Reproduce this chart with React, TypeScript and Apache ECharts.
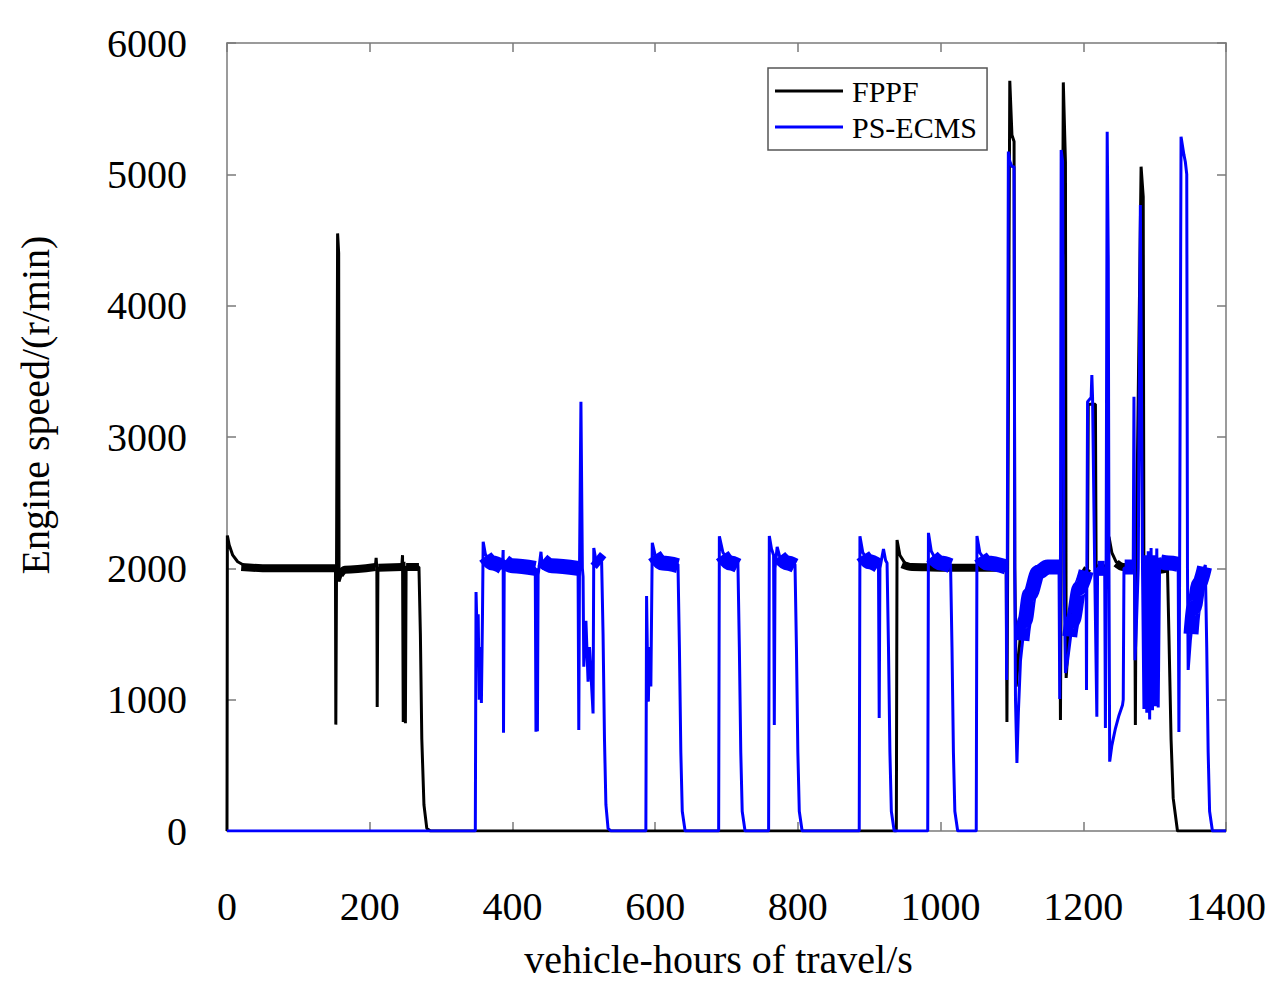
import React, { useEffect, useRef } from "react";
import * as echarts from "echarts";

const X_MIN = 0;
const X_MAX = 1400;
const X_STEP = 200;
const Y_MIN = 0;
const Y_MAX = 6000;
const Y_STEP = 1000;

const X_NAME = "vehicle-hours of travel/s";
const Y_NAME = "Engine speed/(r/min)";
const SERIES_NAMES = ["FPPF", "PS-ECMS"];

// FPPF engine speed trace [time s, speed r/min]
const fppf: [number, number][] = [
  [0, 0], [0.5, 2250], [3, 2180], [8, 2100], [15, 2050], [25, 2020], [40, 2005], [80, 2000], [152, 2000],
  [152.5, 810], [153.5, 2000], [155, 4550], [156.5, 4400], [157, 1900], [160, 1950], [170, 2000],
  [208, 2020], [209, 2080], [210, 2000], [210.5, 945], [211.5, 2000], [245, 2020], [246, 2100], [247, 830],
  [248, 2050], [250, 820], [251, 2010], [269, 2010], [271, 1500], [273, 700], [276, 200], [280, 20], [285, 0],
  [938, 0], [939, 2216], [943, 2100], [950, 2040], [965, 2010], [1000, 2000], [1092, 2000],
  [1093, 830], [1094, 2000], [1097, 5712], [1100, 5300], [1103, 5250], [1104, 2000], [1106, 1100],
  [1115, 1700], [1130, 1950], [1140, 2000], [1167, 2000], [1168, 845], [1169, 2000], [1172, 5700],
  [1175, 5090], [1176, 1165], [1180, 1500], [1190, 1850], [1206, 2000], [1207, 3250], [1217, 3250],
  [1218, 2000], [1234, 2000], [1236, 2240], [1240, 2120], [1246, 2050], [1256, 2010], [1272, 2000],
  [1273, 807], [1274, 2000], [1281, 5058], [1284, 4829], [1285, 1744], [1290, 1850], [1300, 1950],
  [1308, 1990], [1318, 2000], [1320, 1500], [1323, 700], [1326, 250], [1332, 0], [1400, 0],
];

// PS-ECMS engine speed trace [time s, speed r/min]
const psEcms: [number, number][] = [
  [0, 0], [348, 0], [349, 1820], [350.5, 1500], [352, 1650], [353.5, 1000], [355, 1400], [356.5, 975],
  [358, 1630], [359, 2203], [362, 2110], [368, 2050], [378, 2010], [386, 2000], [387, 2140], [387.5, 748],
  [388.5, 2000], [432, 2000], [433, 756], [434, 2000], [435, 760], [436, 1950], [440, 2126], [442, 2000],
  [492, 2000], [493, 769], [494, 2000], [496, 3269], [498, 2000], [499, 1936], [500, 1251], [503, 1600],
  [506, 1136], [508, 1400], [510, 1200], [512, 1000], [513, 895], [514, 2155], [517, 2060], [525, 2050],
  [527, 1500], [529, 700], [531, 200], [534, 20], [538, 0],
  [587, 0], [588, 1790], [589.5, 1200], [590.5, 985], [592, 1400], [594, 1100], [596, 2195], [600, 2100],
  [610, 2040], [632, 2030], [634, 1400], [636, 600], [638, 150], [642, 0],
  [689, 0], [690, 2244], [695, 2120], [705, 2050], [716, 2040], [718, 1400], [720, 600], [722, 150], [726, 0],
  [759, 0], [760, 2246], [763, 2150], [766, 2100], [767, 807], [768, 2000], [771, 2164], [775, 2080],
  [785, 2040], [796, 2030], [798, 1400], [800, 600], [802, 150], [806, 0],
  [886, 0], [887, 2244], [891, 2120], [900, 2050], [913, 2030], [914, 860], [915, 2000], [920, 2147],
  [923, 2060], [925, 2040], [927, 1400], [929, 600], [931, 150], [935, 0],
  [982, 0], [983, 2270], [987, 2130], [995, 2050], [1014, 2030], [1016, 1400], [1018, 600], [1020, 150], [1024, 0],
  [1050, 0], [1051, 2246], [1055, 2120], [1065, 2040], [1092, 2020], [1092.5, 1150], [1093.5, 2000],
  [1095, 5173], [1097, 5100], [1100, 5060], [1103, 5058], [1104, 2000], [1105, 1000], [1107, 518],
  [1109, 900], [1112, 1300], [1118, 1600], [1125, 1800], [1137, 1970], [1150, 2010], [1166, 2010],
  [1167, 1005], [1168, 2000], [1169, 5186], [1171, 5100], [1173, 2000], [1175, 1203], [1178, 1300],
  [1185, 1600], [1195, 1850], [1204, 1980], [1204.5, 1074], [1205, 2000], [1206, 3269], [1211, 3300],
  [1212, 3472], [1213, 3300], [1216, 2000], [1219, 870], [1220, 2000], [1230, 2000], [1231, 784],
  [1232, 2000], [1233.5, 5325], [1235, 4350], [1236, 2000], [1237, 528], [1240, 650], [1245, 780],
  [1250, 880], [1255, 960], [1256, 1000], [1257, 2000], [1270, 2010], [1271, 3306], [1272, 1800],
  [1272.5, 1300], [1274, 1500], [1277, 2000], [1280, 4767], [1283, 2000], [1285, 930], [1287, 2100],
  [1289, 900], [1291, 2130], [1293, 850], [1295, 2155], [1297, 920], [1299, 2100], [1301, 950],
  [1303, 2150], [1305, 940], [1307, 2080], [1309, 2050], [1333, 2050], [1334, 754], [1335, 2000],
  [1337, 5286], [1341, 5150], [1343, 5096], [1345, 5000], [1346, 2000], [1347, 1226], [1350, 1450],
  [1355, 1700], [1362, 1880], [1371, 2026], [1373, 1400], [1375, 600], [1377, 150], [1381, 0], [1400, 0],
];

// fluctuation band centre lines (plateau ripple) for each trace
const fppfBands: [number, number][][] = [
  [[20, 2010], [60, 2000], [152, 2000]],
  [[158, 1950], [165, 1990], [208, 2010]],
  [[212, 2005], [245, 2010]],
  [[251, 2010], [269, 2010]],
  [[946, 2030], [960, 2010], [1000, 2005], [1092, 2005]],
  [[1130, 1970], [1140, 2000], [1167, 2005]],
  [[1195, 1900], [1206, 2000]],
  [[1218, 2000], [1233, 2000]],
  [[1246, 2040], [1256, 2010], [1272, 2005]],
  [[1300, 1960], [1308, 1990], [1318, 2000]],
];

const psEcmsBands: [number, number][][] = [
  [[362, 2090], [372, 2040], [386, 2010]],
  [[389, 2050], [400, 2020], [432, 2000]],
  [[442, 2060], [455, 2020], [492, 2000]],
  [[516, 2080], [525, 2040]],
  [[599, 2100], [610, 2040], [632, 2020]],
  [[694, 2100], [705, 2040], [716, 2020]],
  [[774, 2090], [785, 2040], [796, 2020]],
  [[891, 2100], [900, 2050], [913, 2020]],
  [[988, 2090], [1000, 2040], [1014, 2020]],
  [[1056, 2090], [1065, 2040], [1092, 2010]],
  [[1114, 1450], [1118, 1600], [1125, 1800], [1137, 1970], [1150, 2010], [1166, 2010]],
  [[1181, 1480], [1185, 1600], [1195, 1850], [1204, 1980]],
  [[1220, 2000], [1230, 2000]],
  [[1258, 2010], [1270, 2010]],
  [[1308, 2050], [1320, 2040], [1333, 2030]],
  [[1351, 1500], [1355, 1700], [1362, 1880], [1370, 2010]],
];

const FONT = "'Liberation Serif', 'Times New Roman', serif";
const AXIS_COLOR = "#7a7a7a";

export default function App() {
  const ref = useRef<HTMLDivElement>(null);
  useEffect(() => {
    const chart = echarts.init(ref.current!, null, { renderer: "svg" });
    const axisCommon = {
      axisLine: { show: true, onZero: false, lineStyle: { color: AXIS_COLOR, width: 1.5 } },
      axisTick: { show: true, inside: true, length: 9, lineStyle: { color: AXIS_COLOR, width: 1.5 } },
      splitLine: { show: false },
    };
    const plain = (v: number) => String(v);
    const bandSeries = (bands: [number, number][][], name: string, color: string, width: number) =>
      bands.map((seg, i) => ({
        name: `${name} band ${i}`,
        type: "line",
        data: seg,
        symbol: "none",
        silent: true,
        smooth: 0.35,
        smoothMonotone: "x",
        lineStyle: { color, width, cap: "butt" },
        z: name === "FPPF" ? 2 : 4,
      }));
    const option: any = {
      animation: false,
      backgroundColor: "#fff",
      grid: { left: 227, top: 43, right: 54, bottom: 162, containLabel: false },
      legend: {
        data: SERIES_NAMES,
        left: 768,
        top: 68,
        orient: "vertical",
        icon: "rect",
        itemWidth: 68,
        itemHeight: 3,
        itemGap: 6,
        itemStyle: { borderWidth: 0 },
        padding: [8, 10, 8, 7],
        backgroundColor: "#fff",
        borderColor: "#555",
        borderWidth: 1.5,
        textStyle: { fontFamily: FONT, fontSize: 30, color: "#000", lineHeight: 30, padding: [0, 0, 0, 4] },
      },
      xAxis: [
        {
          type: "value",
          min: X_MIN,
          max: X_MAX,
          interval: X_STEP,
          name: X_NAME,
          nameLocation: "middle",
          nameGap: 108,
          nameTextStyle: { fontFamily: FONT, fontSize: 40, color: "#000", padding: [0, 16, 0, 0] },
          axisLabel: { margin: 55, fontFamily: FONT, fontSize: 40, color: "#000", formatter: plain },
          ...axisCommon,
        },
        {
          type: "value",
          position: "top",
          min: X_MIN,
          max: X_MAX,
          interval: X_STEP,
          axisLabel: { show: false },
          ...axisCommon,
        },
      ],
      yAxis: [
        {
          type: "value",
          min: Y_MIN,
          max: Y_MAX,
          interval: Y_STEP,
          name: Y_NAME,
          nameLocation: "middle",
          nameGap: 172,
          nameTextStyle: { fontFamily: FONT, fontSize: 40, color: "#000", padding: [0, 0, 0, 64] },
          axisLabel: { margin: 40, fontFamily: FONT, fontSize: 40, color: "#000", formatter: plain },
          ...axisCommon,
        },
        {
          type: "value",
          position: "right",
          min: Y_MIN,
          max: Y_MAX,
          interval: Y_STEP,
          axisLabel: { show: false },
          ...axisCommon,
        },
      ],
      series: [
        {
          name: SERIES_NAMES[0],
          type: "line",
          data: fppf,
          symbol: "none",
          color: "#000",
          lineStyle: { color: "#000", width: 3 },
          z: 2,
        },
        ...bandSeries(fppfBands, "FPPF", "#000", 8),
        {
          name: SERIES_NAMES[1],
          type: "line",
          data: psEcms,
          symbol: "none",
          color: "#0000ff",
          lineStyle: { color: "#0000ff", width: 3 },
          z: 4,
        },
        ...bandSeries(psEcmsBands, "PS-ECMS", "#0000ff", 15),
      ],
    };
    chart.setOption(option);
    return () => chart.dispose();
  }, []);
  return (
    <div
      ref={ref}
      style={{ position: "absolute", left: 0, top: 0, width: 1280, height: 993, background: "#fff" }}
    />
  );
}
